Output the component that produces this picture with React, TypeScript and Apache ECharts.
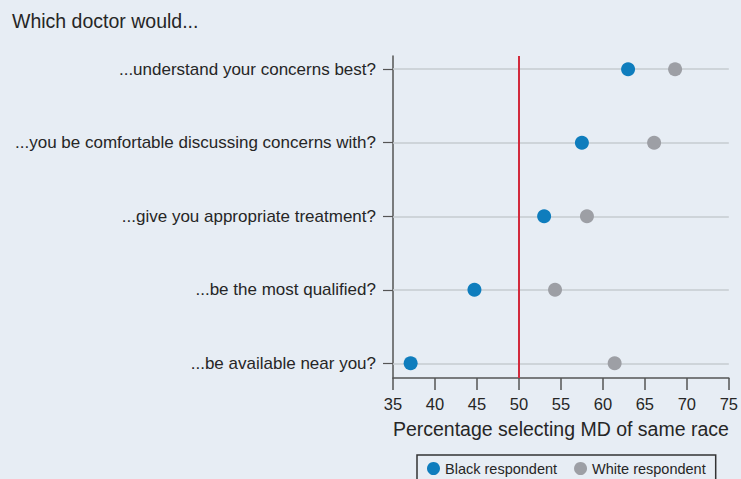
import React, { useEffect, useRef } from "react";
import * as echarts from "echarts";

const categories = [
  "...understand your concerns best?",
  "...you be comfortable discussing concerns with?",
  "...give you appropriate treatment?",
  "...be the most qualified?",
  "...be available near you?",
];
const blackValues = [63.0, 57.5, 53.0, 44.7, 37.1];
const whiteValues = [68.6, 66.1, 58.1, 54.3, 61.4];
const seriesNames = ["Black respondent", "White respondent"];
const referenceValue = 50;
const titleText = "Which doctor would...";
const xAxisTitle = "Percentage selecting MD of same race";

const FONT = "'Liberation Sans', Arial, Helvetica, sans-serif";
const rowIndex = categories.map((_, i) => i + 1);

export default function App() {
  const ref = useRef<HTMLDivElement>(null);
  useEffect(() => {
    if (!ref.current) return;
    const chart = echarts.init(ref.current, undefined, { renderer: "svg" });
    chart.setOption({
      animation: false,
      backgroundColor: "#e7edf4",
      textStyle: { fontFamily: FONT },
      title: {
        text: titleText,
        left: 7,
        top: 6,
        textStyle: { fontSize: 19.5, fontWeight: "normal", color: "#262626", fontFamily: FONT },
      },
      grid: { left: 393, right: 8.5, top: 56, bottom: 101, containLabel: false },
      legend: {
        left: 417,
        top: 455,
        padding: [6, 10, 8, 10],
        borderColor: "#333",
        borderWidth: 1.5,
        itemGap: 17,
        itemWidth: 13,
        itemHeight: 13,
        icon: "circle",
        data: seriesNames,
        textStyle: { fontSize: 14.5, color: "#262626", fontFamily: FONT },
      },
      xAxis: {
        type: "value",
        min: 35,
        max: 75,
        interval: 5,
        name: xAxisTitle,
        nameLocation: "middle",
        nameGap: 41,
        nameTextStyle: { fontSize: 19.5, color: "#262626", fontFamily: FONT },
        axisLine: { show: true, lineStyle: { color: "#555", width: 1.5 } },
        axisTick: { show: true, length: 12, lineStyle: { color: "#555", width: 1.5 } },
        axisLabel: { fontSize: 16.5, color: "#262626", margin: 17, fontFamily: FONT },
        splitLine: { show: false },
      },
      yAxis: {
        type: "value",
        inverse: true,
        min: 0.82,
        max: 5.2,
        axisLine: { show: true, lineStyle: { color: "#555", width: 1.5 } },
        axisTick: {
          show: true,
          length: 10,
          customValues: rowIndex,
          lineStyle: { color: "#555", width: 1.2 },
        },
        axisLabel: {
          customValues: rowIndex,
          fontSize: 17,
          color: "#262626",
          margin: 17,
          fontFamily: FONT,
          formatter: (v: number) => categories[Math.round(v) - 1] ?? "",
        },
        splitLine: { show: false },
      },
      series: [
        {
          type: "line",
          data: [],
          z: 1,
          silent: true,
          markLine: {
            silent: true,
            symbol: "none",
            label: { show: false },
            lineStyle: { color: "#c6cbd1", width: 1.5, type: "solid" },
            data: rowIndex.map((r) => ({ yAxis: r })),
          },
        },
        {
          type: "line",
          data: [],
          z: 2,
          silent: true,
          markLine: {
            silent: true,
            symbol: "none",
            label: { show: false },
            lineStyle: { color: "#d22a3c", width: 2, type: "solid" },
            data: [{ xAxis: referenceValue }],
          },
        },
        {
          name: seriesNames[0],
          type: "scatter",
          z: 5,
          symbol: "circle",
          symbolSize: 14,
          itemStyle: { color: "#0f7dbd", opacity: 1 },
          data: blackValues.map((v, i) => [v, rowIndex[i]]),
        },
        {
          name: seriesNames[1],
          type: "scatter",
          z: 5,
          symbol: "circle",
          symbolSize: 14,
          itemStyle: { color: "#9d9fa5", opacity: 1 },
          data: whiteValues.map((v, i) => [v, rowIndex[i]]),
        },
      ],
    });
    return () => chart.dispose();
  }, []);
  return (
    <div
      ref={ref}
      style={{ position: "fixed", left: 0, top: 0, width: 741, height: 479 }}
    />
  );
}
